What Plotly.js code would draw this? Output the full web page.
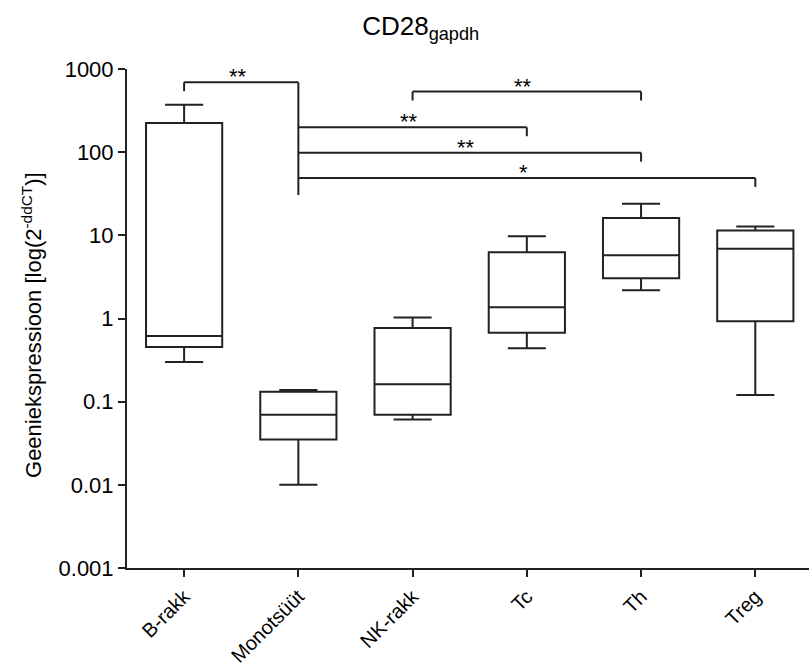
<!DOCTYPE html>
<html>
<head>
<meta charset="utf-8">
<script src="https://cdn.plot.ly/plotly-3.0.1.min.js"></script>
<style>html,body{margin:0;padding:0;background:#fff;}#chart{width:809px;height:669px;}</style>
</head>
<body>
<div id="chart"></div>
<script>
// Categories and box statistics
const categories = ["B-rakk", "Monotsüüt", "NK-rakk", "Tc", "Th", "Treg"];
const lowerWhisker = [0.30, 0.010, 0.061, 0.44, 2.18, 0.12];
const q1Values     = [0.454, 0.0352, 0.0697, 0.675, 3.04, 0.925];
const medianValues = [0.615, 0.0697, 0.162, 1.37, 5.75, 6.9];
const q3Values     = [224, 0.132, 0.769, 6.25, 16.2, 11.4];
const upperWhisker = [372, 0.138, 1.03, 9.73, 24.0, 12.8];

// Y tick labels
const yTickVals = [0.001, 0.01, 0.1, 1, 10, 100, 1000];
const yTickText = ["0.001", "0.01", "0.1", "1", "10", "100", "1000"];

// Significance comparisons: [from index, to index], bracket level (data value), label
const bracketPairs  = [[0, 1], [2, 4], [1, 3], [1, 4], [1, 5]];
const bracketLevels = [692, 535, 199, 98.4, 48.9];
const bracketLabels = ["**", "**", "**", "**", "*"];
const stemBottom = 30.5; // lower end of the shared Monotsüüt stem

const lineColor = "#222222";
const dropFactor = 1.28;
const FONT = "Liberation Sans, Arial, sans-serif";

const trace = {
  type: "box",
  x: categories,
  q1: q1Values,
  median: medianValues,
  q3: q3Values,
  lowerfence: lowerWhisker,
  upperfence: upperWhisker,
  boxpoints: false,
  width: 0.667,
  whiskerwidth: 0.5,
  fillcolor: "#ffffff",
  line: {color: lineColor, width: 2},
  hoverinfo: "skip",
  showlegend: false
};

const shapes = [];
const annotations = [];
const lineStyle = {color: lineColor, width: 2};

bracketPairs.forEach((pair, i) => {
  const [a, b] = pair;
  const lvl = bracketLevels[i];
  shapes.push({type: "line", xref: "x", yref: "y", x0: a, x1: b, y0: lvl, y1: lvl, line: lineStyle});
  [a, b].forEach(end => {
    if (end !== 1 || (a !== 1 && b !== 1)) {
      shapes.push({type: "line", xref: "x", yref: "y", x0: end, x1: end, y0: lvl, y1: lvl / dropFactor, line: lineStyle});
    }
  });
  annotations.push({
    xref: "x", yref: "y",
    x: (a + b) / 2 - 0.03, y: Math.log10(lvl),
    text: bracketLabels[i], showarrow: false,
    xanchor: "center", yanchor: "bottom", yshift: -9,
    font: {family: FONT, size: 22, color: "#000"}
  });
});
// shared Monotsüüt stem
shapes.push({type: "line", xref: "x", yref: "y", x0: 1, x1: 1, y0: bracketLevels[0], y1: stemBottom, line: lineStyle});

// y-axis title as annotation for exact placement
annotations.push({
  xref: "paper", yref: "paper", x: 0, y: 0.487,
  xanchor: "center", yanchor: "middle", xshift: -95,
  textangle: -90, showarrow: false,
  text: "Geeniekspressioon [log(2<sup>-ddCT</sup>)]",
  font: {family: FONT, size: 22, color: "#000"}
});

const layout = {
  width: 809, height: 669,
  margin: {l: 127, r: 0, t: 69, b: 101, pad: 0},
  paper_bgcolor: "#fff", plot_bgcolor: "#fff",
  font: {family: FONT, color: "#000"},
  title: {
    text: "CD28<sub>gapdh</sub>",
    x: 0.52, xanchor: "center", xref: "container",
    y: 0.962, yanchor: "middle", yref: "container",
    font: {family: FONT, size: 26, color: "#000"}
  },
  xaxis: {
    type: "category",
    range: [-0.5, 5.47],
    showline: true, linecolor: lineColor, linewidth: 2,
    ticks: "outside", ticklen: 7, tickwidth: 2, tickcolor: lineColor,
    tickangle: -45,
    tickfont: {family: FONT, size: 20, color: "#000"},
    showgrid: false, zeroline: false, automargin: false, fixedrange: true
  },
  yaxis: {
    type: "log",
    range: [-3, 3],
    tickvals: yTickVals, ticktext: yTickText,
    showline: true, linecolor: lineColor, linewidth: 2,
    ticks: "outside", ticklen: 7, tickwidth: 2, tickcolor: lineColor,
    tickfont: {family: FONT, size: 22, color: "#000"},
    showgrid: false, zeroline: false, automargin: false, fixedrange: true
  },
  shapes: shapes,
  annotations: annotations,
  showlegend: false
};

Plotly.newPlot("chart", [trace], layout, {displayModeBar: false, staticPlot: true});
</script>
</body>
</html>
